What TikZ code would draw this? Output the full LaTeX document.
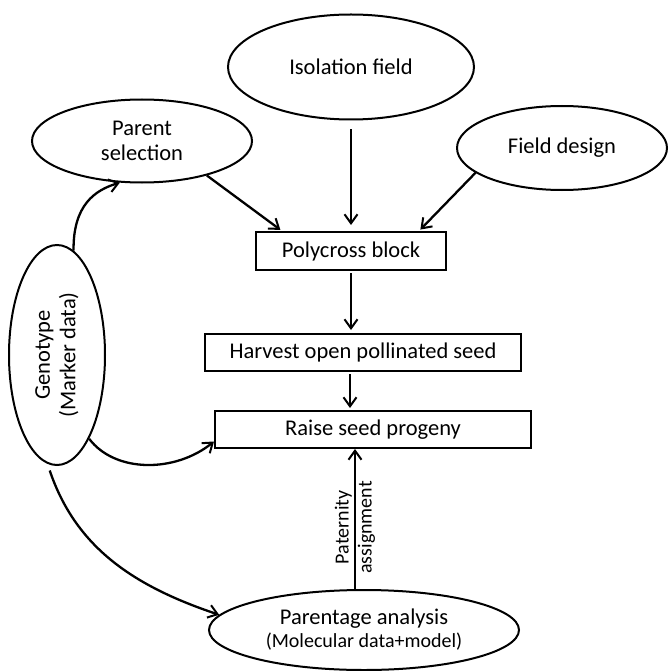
\documentclass[tikz,border=0pt]{standalone}
\usepackage{fontspec}
\setmainfont{Carlito}
\usetikzlibrary{arrows.meta,shapes.geometric}
\newcommand{\bigtxt}{\fontsize{22.5}{25.5}\selectfont}
\newcommand{\smalltxt}{\fontsize{20}{23}\selectfont}
\tikzset{
  oval/.style     = {ellipse,draw,line width=2pt,inner sep=0pt,align=center,font=\bigtxt},
  stepbox/.style  = {rectangle,draw,line width=2pt,inner sep=0pt,font=\bigtxt},
  flowarr/.style  = {-{Straight Barb[length=9pt,width=13pt,line width=2pt]},line width=2.3pt}
}

\begin{document}
\begin{tikzpicture}[x=1pt,y=-1pt]
  \useasboundingbox (0,0) rectangle (670,671);
  % inputs to the polycross
  \node[oval,minimum width=246,minimum height=105] (iso) at (351,67) {Isolation field};
  \node[oval,minimum width=220,minimum height=83] (par) at (142,141) {Parent\\selection};
  \node[oval,minimum width=210,minimum height=84] (fld) at (562,148) {Field design};
  % main flow
  \node[stepbox,minimum width=190,minimum height=38] (poly) at (351,251) {Polycross block};
  \node[stepbox,minimum width=316,minimum height=37] (harv) at (363,352.5) {Harvest open pollinated seed};
  \node[stepbox,minimum width=316,minimum height=37] (raise) at (373,429.5) {Raise seed progeny};
  \node[oval,minimum width=310,minimum height=80,font=\smalltxt] (ana) at (364,630)
        {{\bigtxt Parentage analysis}\\(Molecular data+model)};
  % genotype
  \node[oval,minimum width=96,minimum height=220] (geno) at (57,355) {};
  \node[rotate=90,align=center,font=\bigtxt] (genotxt) at (geno.center) {Genotype\\(Marker data)};

  \draw[flowarr,shorten <=9pt,shorten >=6pt] (iso) -- (poly);
  \draw[flowarr,shorten >=2pt] (par.-28) -- ([xshift=-69pt]poly.north);
  \draw[flowarr,shorten >=2pt] (fld.196) -- ([xshift=68pt]poly.north);
  \draw[flowarr,shorten <=2pt,shorten >=3pt] (poly) -- (poly |- harv.north);
  \draw[flowarr,shorten <=2pt,shorten >=2pt] ([xshift=-13pt]harv.south) -- ([xshift=-13pt]harv.south |- raise.north);
  \draw[flowarr] ([xshift=-9pt]ana.north) -- ([xshift=-9pt]ana.north |- raise.south)
        node[pos=0.44,rotate=90,align=center,font=\smalltxt] (patlab) {Paternity\\assignment};

  \draw[flowarr] (geno.81) .. controls (73,205) and (95,190) .. (par.242);
  \draw[flowarr] (geno.-69) .. controls (115,473) and (175,473) .. ([yshift=-12pt]raise.west);
  \draw[flowarr,shorten <=7pt] (geno.265) .. controls (75,545) and (130,585) .. (ana.174);
\end{tikzpicture}
\end{document}
